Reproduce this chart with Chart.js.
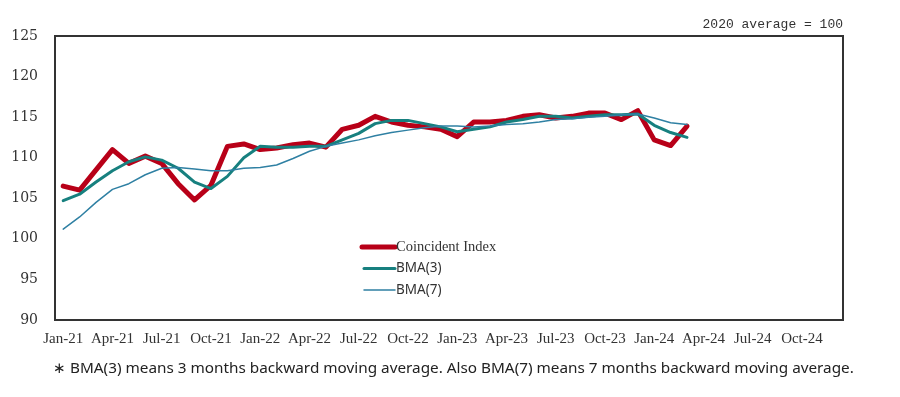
<!DOCTYPE html>
<html>
<head>
<meta charset="utf-8">
<script src="https://cdn.jsdelivr.net/npm/chart.js@4/dist/chart.umd.min.js"></script>
<style>
  html, body { margin: 0; padding: 0; background: #fff; }
  #wrap { position: relative; width: 900px; height: 397px; }
  canvas { position: absolute; left: 0; top: 0; }
  #unit { position: absolute; right: 57px; top: 17px; font: 13px "Liberation Mono", monospace; color: #333; white-space: pre; }
  #note { position: absolute; left: 53px; top: 357px; font: 15.3px "Noto Sans", sans-serif; color: #222; white-space: nowrap; }
</style>
</head>
<body>
<div id="wrap">
  <canvas id="c" width="900" height="397"></canvas>
  <div id="unit">2020 average = 100</div>
  <div id="note">∗ BMA(3) means 3 months backward moving average. Also BMA(7) means 7 months backward moving average.</div>
</div>
<script>
// Categories: Jan-21 .. Dec-24
const months = [
  'Jan-21','Feb-21','Mar-21','Apr-21','May-21','Jun-21','Jul-21','Aug-21','Sep-21','Oct-21','Nov-21','Dec-21',
  'Jan-22','Feb-22','Mar-22','Apr-22','May-22','Jun-22','Jul-22','Aug-22','Sep-22','Oct-22','Nov-22','Dec-22',
  'Jan-23','Feb-23','Mar-23','Apr-23','May-23','Jun-23','Jul-23','Aug-23','Sep-23','Oct-23','Nov-23','Dec-23',
  'Jan-24','Feb-24','Mar-24','Apr-24','May-24','Jun-24','Jul-24','Aug-24','Sep-24','Oct-24','Nov-24','Dec-24'
];
// Series (Jan-21 .. Mar-24)
const coincident = [
  106.5, 106.0, 108.5, 111.0, 109.3, 110.2, 109.3, 106.8, 104.8, 106.6, 111.4, 111.7,
  111.0, 111.2, 111.6, 111.8, 111.3, 113.5, 114.0, 115.1, 114.4, 114.0, 113.8, 113.5,
  112.6, 114.4, 114.4, 114.6, 115.1, 115.3, 114.9, 115.1, 115.5, 115.5, 114.7, 115.8,
  112.2, 111.5, 113.9
];
const bma3 = [
  104.7, 105.5, 107.0, 108.4, 109.5, 110.1, 109.7, 108.7, 107.0, 106.2, 107.7, 110.0,
  111.4, 111.3, 111.3, 111.4, 111.4, 112.2, 113.0, 114.2, 114.6, 114.6, 114.2, 113.8,
  113.2, 113.5, 113.8, 114.4, 114.7, 115.1, 115.1, 114.9, 115.1, 115.3, 115.3, 115.4,
  114.0, 113.1, 112.5
];
const bma7 = [
  101.2, 102.7, 104.5, 106.1, 106.8, 107.9, 108.7, 108.8, 108.6, 108.4, 108.4, 108.7,
  108.8, 109.1, 109.9, 110.8, 111.4, 111.8, 112.2, 112.7, 113.1, 113.4, 113.7, 113.9,
  113.9, 113.8, 113.9, 114.1, 114.2, 114.4, 114.7, 114.8, 115.0, 115.1, 115.3, 115.4,
  114.9, 114.3, 114.1
];
const seriesNames = ['Coincident Index', 'BMA(3)', 'BMA(7)'];
const yMin = 90, yMax = 125, yStep = 5;

const frame = {
  id: 'frame',
  afterDatasetsDraw(chart) {
    const a = chart.chartArea, ctx = chart.ctx;
    ctx.save();
    ctx.strokeStyle = '#333';
    ctx.lineWidth = 2;
    ctx.strokeRect(a.left, a.top, a.right - a.left, a.bottom - a.top);
    ctx.restore();
  }
};

const inLegend = {
  id: 'inLegend',
  afterDraw(chart) {
    const a = chart.chartArea, ctx = chart.ctx;
    const x0 = a.left + 307, y0 = a.top + 211, dy = 21.5;
    const fonts = ['14.5px "Liberation Serif", serif', '13.5px "Noto Sans", sans-serif', '13.5px "Noto Sans", sans-serif'];
    ctx.save();
    chart.data.datasets.forEach((ds, i) => {
      const y = y0 + i * dy;
      ctx.strokeStyle = ds.borderColor;
      ctx.lineWidth = ds.borderWidth;
      ctx.lineCap = 'round';
      ctx.beginPath();
      ctx.moveTo(x0 + (i === 0 ? 0 : 2), y);
      ctx.lineTo(x0 + 33, y);
      ctx.stroke();
      ctx.fillStyle = '#333';
      ctx.font = fonts[i];
      ctx.textBaseline = 'middle';
      ctx.fillText(ds.label, x0 + 34, y);
    });
    ctx.restore();
  }
};

new Chart(document.getElementById('c'), {
  type: 'line',
  data: {
    labels: months,
    datasets: [
      { label: seriesNames[0], data: coincident, borderColor: '#B80018', borderWidth: 5, order: 3 },
      { label: seriesNames[1], data: bma3, borderColor: '#17807F', borderWidth: 3, order: 2 },
      { label: seriesNames[2], data: bma7, borderColor: '#2F80A3', borderWidth: 1.5, order: 1 }
    ]
  },
  options: {
    responsive: false,
    animation: false,
    events: [],
    layout: { padding: { top: 36, right: 57, left: 0, bottom: 47 } },
    elements: {
      point: { radius: 0 },
      line: { tension: 0, borderJoinStyle: 'round', borderCapStyle: 'round', fill: false }
    },
    plugins: { legend: { display: false }, tooltip: { enabled: false } },
    scales: {
      x: {
        type: 'category',
        offset: true,
        grid: { display: false, drawTicks: false },
        border: { display: false },
        afterFit(s) { s.height = 30; },
        ticks: {
          autoSkip: false, maxRotation: 0, minRotation: 0, padding: 10,
          color: '#333',
          font: { family: '"Liberation Serif", serif', size: 15 },
          callback(v, i) { return i % 3 === 0 ? months[i] : ''; }
        }
      },
      y: {
        min: yMin, max: yMax,
        grid: { display: false, drawTicks: false },
        border: { display: false },
        afterFit(s) { s.width = 55; },
        ticks: {
          stepSize: yStep, padding: 17,
          color: '#333',
          font: { family: '"DejaVu Serif", serif', size: 14 }
        }
      }
    }
  },
  plugins: [frame, inLegend]
});
</script>
</body>
</html>
